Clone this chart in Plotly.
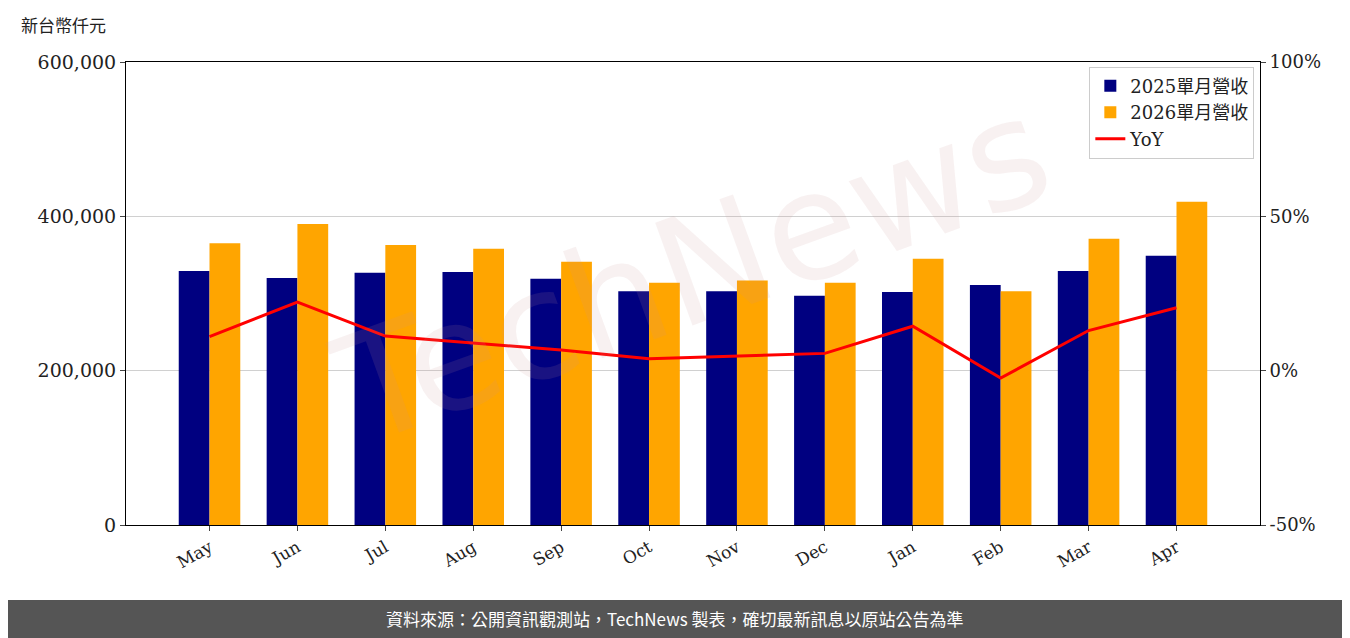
import plotly.graph_objects as go

months = ["May","Jun","Jul","Aug","Sep","Oct","Nov","Dec","Jan","Feb","Mar","Apr"]
rev2025 = [329000,320000,327000,328000,319000,303000,303000,297000,302000,311000,329000,349000]
rev2026 = [365000,390000,363000,358000,341000,314000,317000,314000,345000,303000,371000,419000]
yoy = [11.0,22.2,11.2,8.9,6.7,3.9,4.8,5.6,14.4,-2.4,13.0,20.4]

serif = "DejaVu Serif"
cjk = "Noto Sans CJK TC"
fig = go.Figure()
fig.add_bar(x=months, y=rev2025, name="2025單月營收", marker=dict(color="#000080", line_width=0), offsetgroup=0)
fig.add_bar(x=months, y=rev2026, name="2026單月營收", marker=dict(color="#FFA500", line_width=0), offsetgroup=1)
fig.add_scatter(x=months, y=yoy, name="YoY", mode="lines", line=dict(color="#FF0000", width=3), yaxis="y2")

fig.update_layout(
    width=1350, height=638, plot_bgcolor="white", paper_bgcolor="white",
    margin=dict(l=118, r=98, t=54, b=121, autoexpand=False),
    bargap=0.3, bargroupgap=0,
    font=dict(family=serif + ", " + cjk, size=17, color="#222"),
    xaxis=dict(showline=True, linecolor="black", mirror=True, ticks="outside", tickangle=-30,
               tickfont=dict(family=serif, size=17), range=[-0.95, 11.95]),
    yaxis=dict(range=[0, 600000], tickvals=[0,200000,400000,600000], tickformat=",",
               showline=True, linecolor="black", ticks="outside", gridcolor="#d0d0d0",
               tickfont=dict(family=serif, size=19), zeroline=False),
    yaxis2=dict(range=[-50, 100], tickvals=[-50,0,50,100], ticktext=["-50%","0%","50%","100%"],
                overlaying="y", side="right",
                showline=True, linecolor="black", ticks="outside", showgrid=False, zeroline=False,
                tickfont=dict(family=serif, size=18)),
    legend=dict(x=0.995, y=0.99, xanchor="right", yanchor="top", bordercolor="#ccc", borderwidth=1,
                font=dict(family=serif + ", " + cjk, size=18), bgcolor="rgba(255,255,255,0.85)"),
    showlegend=True,
)
fig.add_annotation(xref="paper", yref="paper", x=-0.094, y=1.05, xanchor="left", yanchor="bottom",
                   text="新台幣仟元", showarrow=False, font=dict(family=cjk, size=17, color="#222"))
fig.add_annotation(xref="paper", yref="paper", x=0.5, y=0.55, text="TechNews", showarrow=False,
                   textangle=-20, font=dict(family="DejaVu Sans", size=150, color="rgba(200,150,150,0.13)"))
fig.add_shape(type="rect", xref="paper", yref="paper", x0=-0.5, x1=1.5, y0=-0.162, y1=-0.3,
              fillcolor="#555555", line_width=0, layer="below")
fig.add_annotation(xref="paper", yref="paper", x=(675-126)/1134, y=-0.203, yanchor="middle",
                   text="資料來源：公開資訊觀測站，TechNews 製表，確切最新訊息以原站公告為準",
                   showarrow=False, font=dict(family=cjk, size=17, color="white"))
fig.write_html("out.html")
